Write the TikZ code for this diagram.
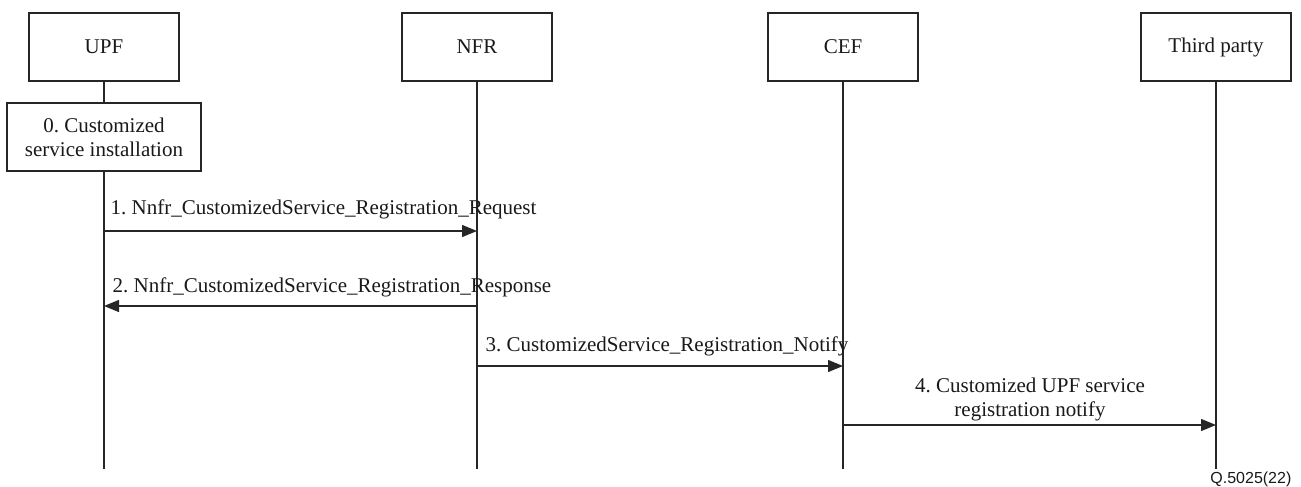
\documentclass[tikz,border=0pt]{standalone}
\usepackage{fontspec}
\setmainfont{Liberation Serif}
\newfontfamily\figsans{Liberation Sans}
\usetikzlibrary{arrows.meta}
\frenchspacing
\begin{document}
\begin{tikzpicture}[x=1pt,y=-1pt,
  line width=1.3pt, draw=black!85,
  every node/.style={font=\rmfamily\fontsize{21}{24}\selectfont, text=black!90},
  entity/.style={draw, minimum width=150pt, minimum height=68pt, inner sep=0pt},
  actbox/.style={draw, minimum width=194pt, minimum height=68pt, inner sep=0pt, align=center},
  msg/.style={-{Triangle[length=15pt,width=12pt]}},
  lbl/.style={inner sep=0pt}
]
\useasboundingbox (0,0) rectangle (1301,487);
% entities
\node[entity] (upf) at (104,47) {UPF};
\node[entity] (nfr) at (477,47) {NFR};
\node[entity] (cef) at (843,47) {CEF};
\node[entity] (tp) at (1216,47) {Third party};
\node[actbox] (inst) at (104,137) {0. Customized\\service installation};
% lifeline ends
\coordinate (upfE) at (104,469);
\coordinate (nfrE) at (477,469);
\coordinate (cefE) at (843,469);
\coordinate (tpE) at (1216,469);
\draw (upf.south) -- (inst.north);
\draw (inst.south) -- (upfE);
\draw (nfr.south) -- (nfrE);
\draw (cef.south) -- (cefE);
\draw (tp.south) -- (tpE);
% message points
\coordinate (u1) at (104,231);
\coordinate (n1) at (477,231);
\coordinate (u2) at (104,306);
\coordinate (n2) at (477,306);
\coordinate (n3) at (477,366);
\coordinate (c3) at (843,366);
\coordinate (c4) at (843,425);
\coordinate (t4) at (1216,425);
\draw[msg] (u1) -- (n1);
\draw[msg] (n2) -- (u2);
\draw[msg] (n3) -- (c3);
\draw[msg] (c4) -- (t4);
% labels
\node[lbl, anchor=west] (l1) at (110,209) {1. Nnfr\_CustomizedService\_Registration\_Request};
\node[lbl, anchor=west] (l2) at (112,287) {2. Nnfr\_CustomizedService\_Registration\_Response};
\node[lbl, anchor=west] (l3) at (485,346) {3. CustomizedService\_Registration\_Notify};
\node[lbl, align=center] (l4) at (1030,399) {4. Customized UPF service\\registration notify};
\node[lbl, anchor=east, font=\figsans\fontsize{16}{18}\selectfont] (ref) at (1292,479) {Q.5025(22)};
\end{tikzpicture}
\end{document}
